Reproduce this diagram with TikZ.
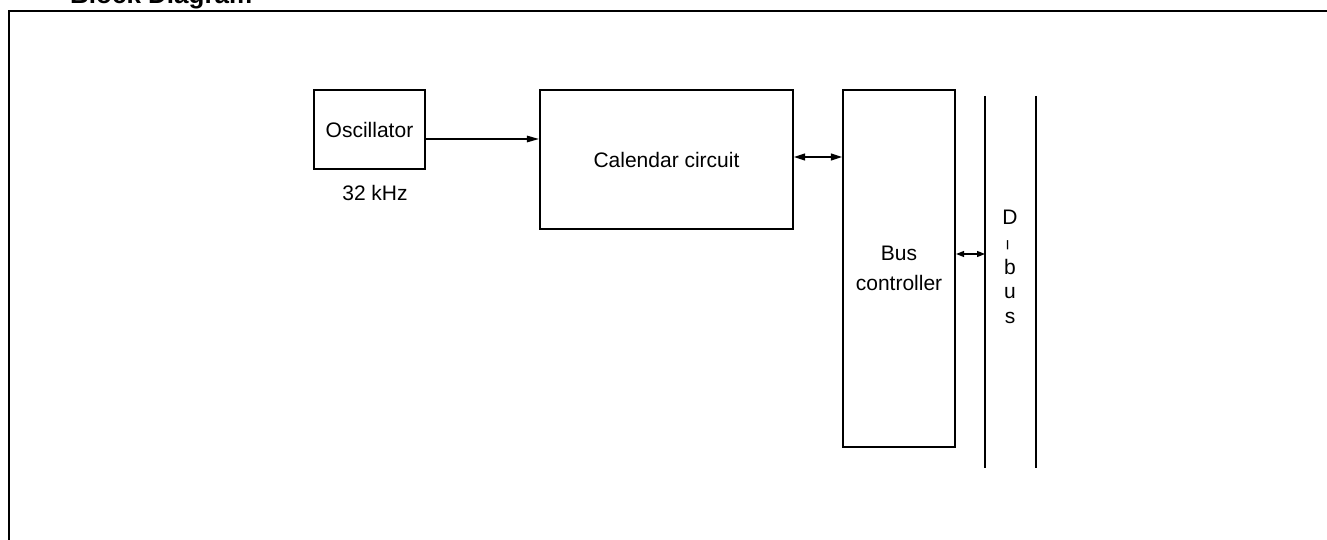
\documentclass[tikz,border=0pt]{standalone}
\usepackage{fontspec}
\setmainfont{Liberation Sans}
\usetikzlibrary{arrows.meta}
\begin{document}
\begin{tikzpicture}[x=1pt,y=-1pt,
  blk/.style={draw,line width=2.2pt,inner sep=0pt,align=center,font=\fontsize{21}{30}\selectfont},
  lbl/.style={inner sep=0pt,font=\fontsize{21}{25}\selectfont},
  conn/.style={line width=1.3pt},
  tipA/.style={-{Triangle[length=12pt,width=6.5pt]}},
  tipB/.style={{Triangle[length=11pt,width=7pt]}-{Triangle[length=11pt,width=7pt]}},
  tipC/.style={{Triangle[length=8pt,width=6pt]}-{Triangle[length=8pt,width=6pt]}},
  busline/.style={line width=2.4pt}
]
\useasboundingbox (0,0) rectangle (1327,540);
% frame and title
\draw[line width=2.8pt] (9,541) -- (9,11) -- (1328,11);
\node[anchor=base west,inner sep=0pt,font=\fontsize{26}{30}\selectfont\bfseries] (title) at (70,4) {Block Diagram};
% blocks
\node[blk,minimum width=111pt,minimum height=79pt] (osc) at (369.5,129.5) {Oscillator};
\node[lbl] (freq) at (375,193) {32 kHz};
\node[blk,minimum width=253pt,minimum height=139pt] (cal) at (666.5,159.5) {Calendar circuit};
\node[blk,minimum width=112pt,minimum height=357pt,text depth=0pt] (bus) at (899,268.5) {Bus\\controller};
% D-bus lines
\coordinate (b1t) at (985,96);
\coordinate (b1b) at (985,468);
\coordinate (b2t) at (1036,96);
\coordinate (b2b) at (1036,468);
\draw[busline] (b1t) -- (b1b);
\draw[busline] (b2t) -- (b2b);
% D-bus label
\node[lbl,anchor=base] (dD) at (1010,224) {D};
\node[lbl] (dH) at (1010,245.5) {\rotatebox{90}{\scalebox{1.8}[0.8]{-}}};
\node[lbl,anchor=base] (db) at (1010,274.5) {b};
\node[lbl,anchor=base] (du) at (1010,298.5) {u};
\node[lbl,anchor=base] (ds) at (1010,323) {s};
% connectors
\coordinate (y1) at (0,139);
\coordinate (y2) at (0,157);
\coordinate (y3) at (0,254);
\draw[conn,tipA] (osc.east |- y1) -- (cal.west |- y1);
\draw[conn,tipB] (cal.east |- y2) -- (bus.west |- y2);
\draw[conn,tipC] (bus.east |- y3) -- (b1t |- y3);
\end{tikzpicture}
\end{document}
